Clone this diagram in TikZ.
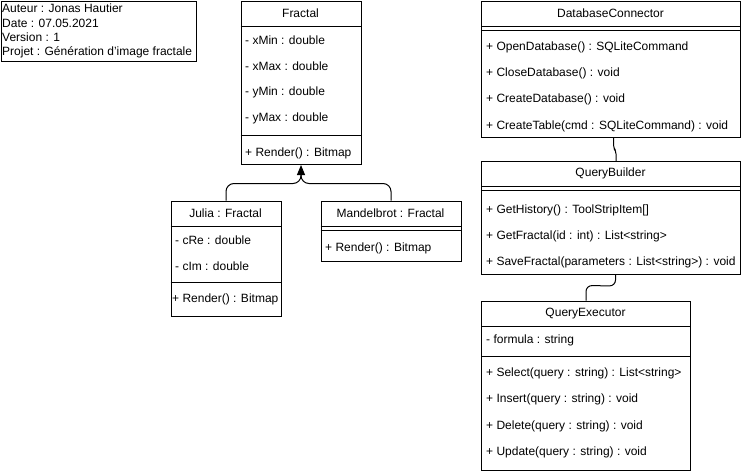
\documentclass[tikz,border=0pt]{standalone}
\usepackage{fontspec}
\setmainfont{Liberation Sans}
\usetikzlibrary{arrows.meta,calc}
\tikzset{
  box/.style={draw=black, line width=1pt, anchor=north west, inner sep=0pt, minimum width=#1},
  txt/.style={anchor=west, inner sep=0pt, font=\fontsize{12}{14}\selectfont},
  ttl/.style={anchor=center, inner sep=0pt, font=\fontsize{12}{14}\selectfont},
  sep/.style={draw=black, line width=1pt},
  conn/.style={draw=black, line width=1pt},
}
\begin{document}
\begin{tikzpicture}[x=1pt,y=-1pt]
\useasboundingbox (0,0) rectangle (751,471);
% info box
\node[box=195pt, minimum height=60pt] (info) at (0.5,0.5) {};
\node[txt] (i1) at (2,8) {Auteur : Jonas Hautier};
\node[txt] (i2) at (2,23) {Date : 07.05.2021};
\node[txt] (i3) at (2,37.5) {Version : 1};
\node[txt] (i4) at (2,52) {Projet : Génération d'image fractale};
% Fractal
\node[box=120pt, minimum height=163.5pt] (frac) at (240.5,0.5) {};
\node[ttl] (fract) at (300.5,13.5) {Fractal};
\draw[sep] (240.5,26.5) -- (360.5,26.5);
\node[txt] (f1) at (245,40) {- xMin : double};
\node[txt] (f2) at (245,66) {- xMax : double};
\node[txt] (f3) at (245,92) {- yMin : double};
\node[txt] (f4) at (245,118) {- yMax : double};
\draw[sep] (240.5,135) -- (360.5,135);
\node[txt] (f5) at (245,153) {+ Render() : Bitmap};
% Julia
\node[box=110pt, minimum height=115pt] (julia) at (170.5,200.5) {};
\node[ttl] (juliat) at (225.5,213) {Julia : Fractal};
\draw[sep] (170.5,226) -- (280.5,226);
\node[txt] (j1) at (175,240.5) {- cRe : double};
\node[txt] (j2) at (175,266.5) {- cIm : double};
\draw[sep] (170.5,282.5) -- (280.5,282.5);
\node[txt] (j3) at (172,299) {+ Render() : Bitmap};
% Mandelbrot
\node[box=140pt, minimum height=60pt] (mand) at (320.5,200.5) {};
\node[ttl] (mandt) at (390.5,213) {Mandelbrot : Fractal};
\draw[sep] (320.5,226) -- (460.5,226);
\draw[sep] (320.5,230) -- (460.5,230);
\node[txt] (m1) at (325,248) {+ Render() : Bitmap};
% DatabaseConnector
\node[box=259pt, minimum height=136.5pt] (db) at (481,0.5) {};
\node[ttl] (dbt) at (610.5,13.5) {DatabaseConnector};
\draw[sep] (481,26.5) -- (740,26.5);
\draw[sep] (481,30.5) -- (740,30.5);
\node[txt] (d1) at (486,47) {+ OpenDatabase() : SQLiteCommand};
\node[txt] (d2) at (486,73) {+ CloseDatabase() : void};
\node[txt] (d3) at (486,99.5) {+ CreateDatabase() : void};
\node[txt] (d4) at (486,126) {+ CreateTable(cmd : SQLiteCommand) : void};
% QueryBuilder
\node[box=259pt, minimum height=113pt] (qb) at (481,161) {};
\node[ttl] (qbt) at (610.5,173.5) {QueryBuilder};
\draw[sep] (481,186.5) -- (740,186.5);
\draw[sep] (481,190.5) -- (740,190.5);
\node[txt] (q1) at (486,210.5) {+ GetHistory() : ToolStripItem[]};
\node[txt] (q2) at (486,236.5) {+ GetFractal(id : int) : List<string>};
\node[txt] (q3) at (486,262.5) {+ SaveFractal(parameters : List<string>) : void};
% QueryExecutor
\node[box=209pt, minimum height=169.5pt] (qe) at (481,300.5) {};
\node[ttl] (qet) at (585.5,313.5) {QueryExecutor};
\draw[sep] (481,326.5) -- (690,326.5);
\node[txt] (e1) at (486,340.5) {- formula : string};
\draw[sep] (481,356.5) -- (690,356.5);
\node[txt] (e2) at (486,373.5) {+ Select(query : string) : List<string>};
\node[txt] (e3) at (486,399.5) {+ Insert(query : string) : void};
\node[txt] (e4) at (486,426) {+ Delete(query : string) : void};
\node[txt] (e5) at (486,452.5) {+ Update(query : string) : void};
% inheritance
\coordinate (jn) at (julia.north);
\coordinate (mn) at (mand.north);
\draw[conn, rounded corners=8pt] (julia.north) -- ($(jn)+(0,-17)$) -- ($(jn)+(75,-17)$) -- ($(jn)+(75,-26)$);
\draw[conn, rounded corners=8pt, -{Triangle[length=10pt,width=8pt]}] (mand.north) -- ($(mn)+(0,-17)$) -- ($(mn)+(-90,-17)$) -- (frac.south);
% associations
\draw[conn, rounded corners=3pt] ([xshift=2.5pt]db.south) -- ++(0,10) -- ++(2.5,3) -- ([xshift=5pt]qb.north);
\draw[conn, rounded corners=6pt] ([xshift=4.5pt]qb.south) -- ++(0,11) -- ($(qe.north)+(0,-15)$) -- (qe.north);
\end{tikzpicture}
\end{document}
